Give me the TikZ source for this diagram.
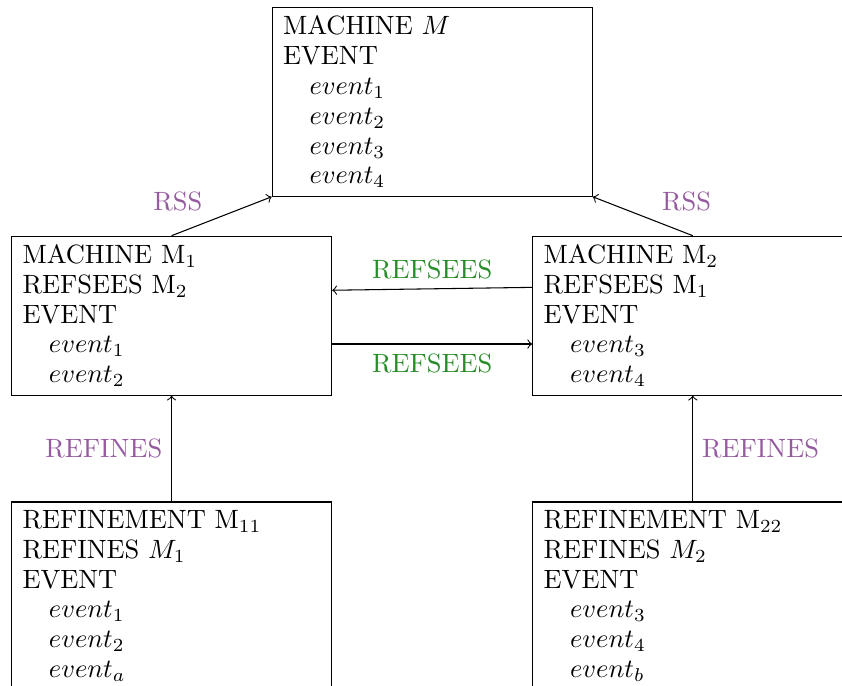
\documentclass[tikz,border=0pt]{standalone}
\usepackage{amsmath}
\usetikzlibrary{positioning, calc}
\definecolor{relpurple}{RGB}{150,90,160}
\definecolor{relgreen}{RGB}{40,140,40}

\begin{document}
\begin{tikzpicture}
[
    node distance=14.7pt,
    box/.style={
        draw,
        rectangle,
        text width=112.7pt,
        inner xsep=4.16pt,
        inner ysep=3.17pt,
        align=left,
        font={\fontsize{10}{11.27}\selectfont},
    },
    arrow/.style={->},
    lift/.style={text=relpurple},
    link/.style={text=relgreen}
]

% Define the nodes
\node[box] (m1) {MACHINE M$_1$\\ REFSEES M$_2$\\ EVENT\\ \quad$event_1$\\ \quad$event_2$};
\node[box, right=75.6pt of m1] (m2) {MACHINE M$_2$\\ REFSEES M$_1$\\ EVENT\\ \quad$event_3$\\ \quad$event_4$};
\node[box, above=of $(m1.north)!0.5!(m2.north)$] (m) {MACHINE $M$\\ EVENT\\ \quad$event_1$\\ \quad$event_2$\\ \quad$event_3$\\ \quad$event_4$};
\node[box, below=40pt of m1] (m11) {REFINEMENT M$_{11}$\\ REFINES $M_1$\\ EVENT\\ \quad$event_1$\\ \quad$event_2$\\ \quad$event_a$};
\node[box, below=40pt of m2] (m22) {REFINEMENT M$_{22}$\\ REFINES $M_2$\\ EVENT\\ \quad$event_3$\\ \quad$event_4$\\ \quad$event_b$};

% Both machines see the abstract one
\draw[arrow] (m1.north) -- node[lift, above left, pos=0.4] {RSS} (m.south west);
\draw[arrow] (m2.north) -- node[lift, above right, pos=0.4] {RSS} (m.south east);

% Mutual sees between M1 and M2
\draw[arrow] (m2.170) -- node[link, above] {REFSEES} (m1.9);
\draw[arrow] (m1.-10) -- node[link, below] {REFSEES} (m2.190);

% Refinements
\draw[arrow] (m11) -- node[lift, left] {REFINES} (m1);
\draw[arrow] (m22) -- node[lift, right] {REFINES} (m2);

\pgfresetboundingbox
\useasboundingbox ($(m1.west |- m.north)+(-4.16pt,2.65pt)$) rectangle ++(318.3pt,-259pt);

\end{tikzpicture}
\end{document}
